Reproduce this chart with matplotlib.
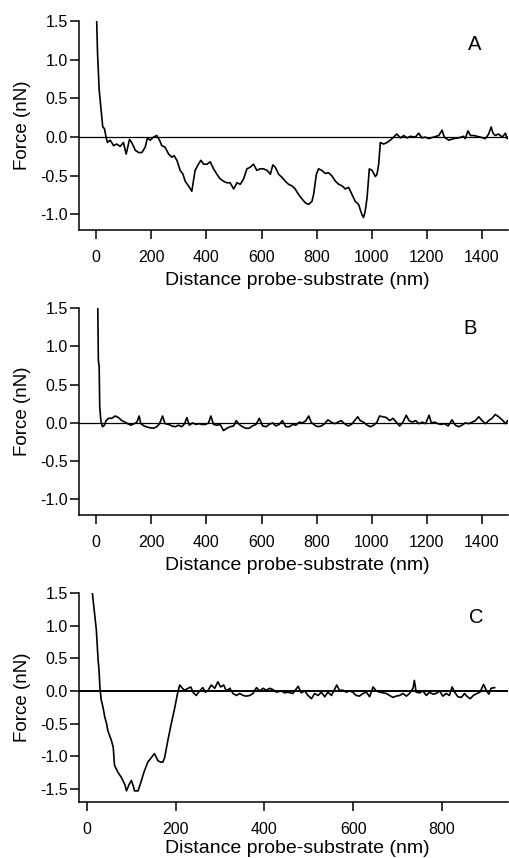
import matplotlib
matplotlib.use("Agg")
import matplotlib.pyplot as plt

plt.rcParams["font.family"] = ["Liberation Sans", "DejaVu Sans"]
plt.rcParams["axes.unicode_minus"] = False

# ── panel A: force curve with long adhesion plateau ──────────────────────────
xa = [2, 5, 11, 18, 24, 30, 36, 41, 51, 63, 75, 87, 99, 109, 121, 129, 142,
      154, 166, 178, 186, 196, 208, 220, 230, 238, 250, 263, 275, 283, 293,
      305, 315, 323, 335, 347, 359, 371, 380, 390, 402, 414, 426, 438, 450,
      462, 474, 486, 499, 511, 523, 535, 547, 559, 571, 583, 595, 607, 620,
      632, 641, 650, 662, 674, 686, 698, 710, 722, 734, 747, 759, 771, 783,
      789, 799, 807, 819, 831, 843, 855, 868, 880, 892, 904, 916, 928, 940,
      952, 964, 970, 976, 983, 991, 1001, 1013, 1019, 1025, 1031, 1043, 1055,
      1067, 1079, 1091, 1104, 1116, 1128, 1140, 1158, 1170, 1182, 1194, 1206,
      1225, 1243, 1255, 1263, 1279, 1297, 1315, 1333, 1339, 1349, 1358, 1370,
      1382, 1394, 1412, 1424, 1433, 1440, 1448, 1460, 1473, 1485, 1491, 1499]
ya = [1.5, 1.09, 0.61, 0.35, 0.13, 0.11, 0.0, -0.07, -0.04, -0.11, -0.09,
      -0.12, -0.07, -0.22, -0.03, -0.07, -0.17, -0.2, -0.2, -0.13, -0.01,
      -0.04, 0.0, 0.02, -0.04, -0.11, -0.13, -0.22, -0.26, -0.24, -0.3,
      -0.43, -0.48, -0.57, -0.63, -0.7, -0.43, -0.35, -0.3, -0.35, -0.35,
      -0.32, -0.41, -0.48, -0.54, -0.57, -0.59, -0.59, -0.67, -0.59, -0.61,
      -0.54, -0.41, -0.39, -0.35, -0.43, -0.41, -0.41, -0.43, -0.48, -0.36,
      -0.39, -0.48, -0.52, -0.57, -0.61, -0.63, -0.67, -0.74, -0.8, -0.85,
      -0.87, -0.83, -0.74, -0.48, -0.41, -0.43, -0.47, -0.46, -0.5, -0.57,
      -0.61, -0.63, -0.67, -0.65, -0.74, -0.83, -0.87, -1.0, -1.04, -0.96,
      -0.78, -0.41, -0.43, -0.51, -0.48, -0.35, -0.07, -0.09, -0.07, -0.04,
      0.0, 0.04, -0.01, 0.02, -0.01, 0.01, 0.0, 0.05, -0.01, 0.0, -0.02,
      0.0, 0.02, 0.09, 0.0, -0.04, -0.02, -0.01, 0.01, -0.02, 0.08, 0.02,
      0.02, 0.01, 0.0, -0.02, 0.04, 0.13, 0.05, 0.02, 0.04, 0.0, 0.05,
      -0.02, 0.02]

# ── panel B: no adhesion ─────────────────────────────────────────────────────
xb = [6, 8, 11, 13, 17, 23, 30, 36, 45, 57, 69, 81, 93, 105, 114, 126, 138,
      148, 156, 162, 174, 190, 208, 220, 230, 241, 250, 263, 275, 287, 299,
      311, 321, 329, 338, 350, 362, 374, 384, 396, 408, 416, 426, 438, 450,
      462, 474, 486, 499, 508, 519, 531, 543, 555, 567, 580, 592, 604, 616,
      628, 640, 652, 664, 676, 688, 701, 713, 725, 737, 749, 761, 771, 780,
      793, 805, 817, 829, 841, 853, 865, 877, 889, 901, 914, 926, 938, 949,
      958, 970, 983, 995, 1007, 1019, 1028, 1041, 1053, 1065, 1077, 1089,
      1101, 1113, 1125, 1135, 1147, 1159, 1171, 1183, 1195, 1208, 1216, 1228,
      1240, 1252, 1264, 1277, 1291, 1303, 1315, 1327, 1339, 1352, 1364, 1376,
      1388, 1400, 1412, 1424, 1436, 1448, 1460, 1473, 1485, 1493]
yb = [1.49, 0.82, 0.73, 0.21, 0.03, -0.05, -0.03, 0.03, 0.06, 0.06, 0.09,
      0.07, 0.03, 0.01, -0.01, -0.03, -0.01, 0.01, 0.09, -0.01, -0.04, -0.06,
      -0.07, -0.05, -0.01, 0.09, -0.01, -0.02, -0.04, -0.05, -0.03, -0.05,
      -0.01, 0.07, -0.03, 0.0, -0.02, -0.01, -0.02, -0.02, 0.0, 0.09, -0.02,
      -0.03, -0.02, -0.1, -0.07, -0.05, -0.04, 0.03, -0.02, -0.05, -0.07,
      -0.07, -0.04, -0.02, 0.06, -0.04, -0.05, -0.02, 0.0, -0.04, -0.02,
      0.03, -0.05, -0.05, -0.02, -0.03, 0.01, 0.0, 0.03, 0.09, 0.01, -0.03,
      -0.05, -0.04, -0.01, 0.04, 0.01, -0.01, 0.01, 0.03, -0.01, -0.04,
      -0.02, 0.03, 0.08, 0.03, 0.01, -0.03, -0.05, -0.03, 0.01, 0.09, 0.08,
      0.07, 0.03, 0.06, 0.01, -0.04, 0.01, 0.1, 0.03, 0.01, 0.03, -0.01,
      0.01, -0.01, 0.1, 0.0, 0.01, -0.01, -0.02, -0.01, -0.04, 0.04, -0.03,
      -0.05, -0.03, 0.0, -0.01, 0.01, 0.03, 0.08, 0.03, -0.01, 0.03, 0.06,
      0.11, 0.08, 0.04, -0.01, 0.03]

# ── panel C: single strong adhesion peak ─────────────────────────────────────
xc = [12, 16, 20, 21, 23, 25, 27, 29, 32, 36, 40, 44, 47, 55, 59, 62, 70, 77,
      85, 89, 95, 100, 104, 107, 115, 120, 128, 137, 145, 152, 160, 166, 171,
      175, 183, 190, 198, 204, 209, 215, 220, 228, 234, 239, 246, 254, 261,
      267, 273, 280, 288, 295, 301, 308, 314, 322, 329, 337, 344, 352, 359,
      367, 374, 382, 389, 397, 404, 412, 419, 427, 438, 445, 453, 464, 476,
      483, 491, 498, 506, 513, 521, 528, 536, 543, 551, 563, 569, 577, 584,
      592, 599, 607, 614, 622, 630, 637, 645, 652, 660, 667, 675, 682, 690,
      697, 705, 712, 720, 727, 735, 738, 742, 750, 757, 765, 772, 780, 787,
      795, 802, 810, 817, 823, 829, 836, 844, 851, 856, 864, 871, 879, 886,
      894, 900, 906, 911, 919]
yc = [1.5, 1.24, 0.98, 0.93, 0.7, 0.47, 0.32, 0.06, -0.14, -0.25, -0.4,
      -0.5, -0.61, -0.76, -0.86, -1.14, -1.25, -1.32, -1.43, -1.53, -1.43,
      -1.37, -1.45, -1.53, -1.53, -1.43, -1.25, -1.09, -1.02, -0.96, -1.07,
      -1.09, -1.09, -1.02, -0.73, -0.5, -0.25, -0.04, 0.09, 0.04, 0.01, 0.04,
      0.06, -0.02, -0.07, 0.0, 0.05, -0.02, 0.01, 0.09, 0.04, 0.14, 0.06,
      0.09, 0.0, 0.04, -0.04, -0.07, -0.04, -0.07, -0.08, -0.07, -0.04, 0.05,
      0.0, 0.04, 0.01, 0.04, 0.02, -0.02, 0.0, -0.03, -0.02, -0.04, 0.07,
      -0.03, 0.0, -0.07, -0.12, -0.04, -0.07, -0.02, -0.09, -0.02, -0.07,
      0.09, 0.01, 0.01, -0.02, 0.0, -0.02, -0.07, -0.08, -0.04, -0.02, -0.09,
      0.06, 0.0, -0.02, -0.03, -0.04, -0.07, -0.1, -0.08, -0.07, -0.04,
      -0.08, -0.04, 0.04, 0.16, -0.02, -0.03, 0.0, -0.07, -0.02, -0.05,
      -0.04, 0.0, -0.08, -0.04, -0.07, 0.06, -0.02, -0.09, -0.1, -0.04,
      -0.08, -0.12, -0.07, -0.04, -0.02, 0.1, 0.01, -0.05, 0.04, 0.05]

yticks_ab = [-1.0, -0.5, 0.0, 0.5, 1.0, 1.5]
yticks_c = [-1.5, -1.0, -0.5, 0.0, 0.5, 1.0, 1.5]
xticks_ab = [0, 200, 400, 600, 800, 1000, 1200, 1400]
xticks_c = [0, 200, 400, 600, 800]

PANELS = [
    # x, y, label, rect, xlim, ylim, xticks, yticks, zero-line width, xlabel y, letter pos
    (xa, ya, "A", [0.155, 0.732, 0.841, 0.2435], (-62, 1494), (-1.2, 1.5),
     xticks_ab, yticks_ab, 0.9, -0.203, (0.923, 0.89)),
    (xb, yb, "B", [0.155, 0.400, 0.841, 0.241], (-62, 1494), (-1.2, 1.5),
     xticks_ab, yticks_ab, 0.9, -0.203, (0.911, 0.90)),
    (xc, yc, "C", [0.155, 0.0653, 0.841, 0.2437], (-18, 949), (-1.7, 1.5),
     xticks_c, yticks_c, 1.4, -0.183, (0.925, 0.88)),
]

fig = plt.figure(figsize=(5.1, 8.58), dpi=100)

for x, y, letter, rect, xlim, ylim, xt, yt, zlw, xly, lpos in PANELS:
    ax = fig.add_axes(rect)
    ax.axhline(0, color="black", lw=zlw, zorder=1)
    ax.plot(x, y, color="black", lw=1.2, zorder=2)
    ax.set_xlim(*xlim)
    ax.set_ylim(*ylim)
    ax.set_xticks(xt)
    ax.set_yticks(yt)
    ax.set_yticklabels([f"{v:.1f}" for v in yt])
    for side in ("top", "right"):
        ax.spines[side].set_visible(False)
    for side in ("left", "bottom"):
        ax.spines[side].set_linewidth(1.1)
    ax.tick_params(axis="x", direction="out", length=6.5, width=1.1,
                   pad=8, labelsize=11.5)
    ax.tick_params(axis="y", direction="out", length=6.5, width=1.1,
                   pad=1.5, labelsize=11.5)
    ax.set_xlabel("Distance probe-substrate (nm)", fontsize=14)
    ax.set_ylabel("Force (nN)", fontsize=13.5)
    ax.xaxis.set_label_coords(0.508, xly)
    ax.yaxis.set_label_coords(-0.112, 0.5)
    ax.text(lpos[0], lpos[1], letter, transform=ax.transAxes,
            fontsize=14.5, ha="center", va="center")

fig.savefig("out.png", dpi=100)
